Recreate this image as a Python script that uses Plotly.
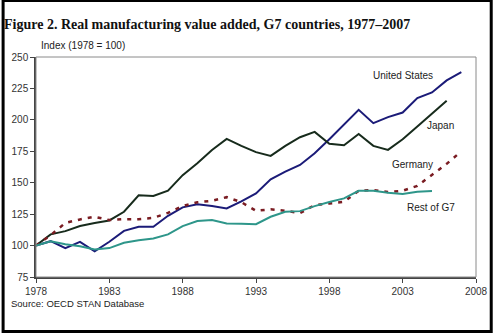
import plotly.graph_objects as go

# Index of real manufacturing value added (1978 = 100)
years_us = list(range(1978, 2008))
united_states = [100, 103.5, 98, 102.9, 95.5, 103, 111.7, 115, 115, 123.7,
                 130.4, 132.8, 131.4, 129.5, 135.2, 141.5, 152.7, 158.8, 164.1, 173.4,
                 184.6, 196, 208, 197.4, 202.2, 205.8, 217.3, 221.8, 231.4, 238]

years_jp = list(range(1978, 2007))
japan = [100, 108.9, 111.5, 115.5, 118, 120, 126.9, 140, 139.4, 143.6,
         156, 165.5, 176, 184.8, 179.3, 174.3, 171.3, 179.3, 186.2, 190.4,
         180.9, 179.8, 188.8, 179.3, 176.1, 184.6, 194.7, 204.8, 215.2]

years_de = list(range(1978, 2008))
germany = [100, 108.3, 118, 120.8, 122.9, 120.3, 121, 121, 122, 126,
           131.4, 134.4, 135.6, 138.5, 134.5, 127.7, 128.8, 127.7, 125.8, 132.2,
           133.5, 134.8, 143.6, 144.2, 142.6, 143.6, 147.5, 156, 165, 175]

years_rest = list(range(1978, 2006))
rest_of_g7 = [100, 103.5, 101, 99.5, 96.9, 98, 102.2, 104.3, 105.6, 108.9,
              115.5, 119.5, 120.3, 117.6, 117.3, 117, 122.9, 126.9, 127.4, 131.4,
              134.7, 137.5, 143.6, 143.6, 142, 141, 142.8, 143.4]

x_ticks = [1978, 1983, 1988, 1993, 1998, 2003, 2008]
y_ticks = [75, 100, 125, 150, 175, 200, 225, 250]

W, H = 500, 333
L, R, T, B = 35, 17, 57, 56
PW, PH = W - L - R, H - T - B


def px(x):
    return (x - L) / PW


def py(y):
    return (H - B - y) / PH


fig = go.Figure()
fig.add_trace(go.Scatter(x=years_us, y=united_states, mode="lines",
                         line=dict(color="#1b1b78", width=2), name="United States"))
fig.add_trace(go.Scatter(x=years_jp, y=japan, mode="lines",
                         line=dict(color="#172b1c", width=2), name="Japan"))
fig.add_trace(go.Scatter(x=years_de, y=germany, mode="lines",
                         line=dict(color="#7a1c22", width=2.5, dash="4px,6px"), name="Germany"))
fig.add_trace(go.Scatter(x=years_rest, y=rest_of_g7, mode="lines",
                         line=dict(color="#2e968a", width=2), name="Rest of G7"))

label_font = dict(family="Liberation Sans, Arial", size=10, color="#222222")
series_labels = [("United States", 2003.05, 235.1),
                 ("Japan", 2005.6, 195.8),
                 ("Germany", 2003.7, 164.1),
                 ("Rest of G7", 2004.9, 130)]
annotations = [dict(text=t, x=x, y=y, xref="x", yref="y", showarrow=False,
                    font=label_font, xanchor="center", yanchor="middle")
               for t, x, y in series_labels]

annotations += [
    dict(text="<b>Figure 2. Real manufacturing value added, G7 countries, 1977–2007</b>",
         x=px(0), y=py(24), xref="paper", yref="paper", showarrow=False,
         xanchor="left", yanchor="middle",
         font=dict(family="Liberation Serif, Times New Roman", size=14, color="#111111")),
    dict(text="Index (1978 = 100)", x=px(38), y=py(46), xref="paper", yref="paper",
         showarrow=False, xanchor="left", yanchor="middle",
         font=dict(family="Liberation Sans, Arial", size=10, color="#222222")),
    dict(text="Source: OECD STAN Database", x=px(8), y=py(303), xref="paper", yref="paper",
         showarrow=False, xanchor="left", yanchor="middle",
         font=dict(family="Liberation Sans, Arial", size=9.5, color="#222222")),
]

shapes = [
    # plot frame
    dict(type="rect", xref="paper", yref="paper", x0=0, x1=1, y0=0, y1=1,
         line=dict(color="#8a8a8a", width=1)),
    # outer border
    dict(type="rect", xref="paper", yref="paper",
         x0=px(1.5), x1=px(498.5), y0=py(331.5), y1=py(0.5),
         line=dict(color="#000000", width=3)),
]

tick_font = dict(family="Liberation Sans, Arial", size=10, color="#333333")
fig.update_layout(
    width=W, height=H,
    margin=dict(l=L, r=R, t=T, b=B),
    paper_bgcolor="white", plot_bgcolor="white",
    showlegend=False,
    annotations=annotations,
    shapes=shapes,
    xaxis=dict(range=[1978, 2008], tickvals=x_ticks, ticktext=[str(v) for v in x_ticks],
               showgrid=False, zeroline=False, showline=True, linecolor="#444444", linewidth=1.5,
               ticks="outside", ticklen=4, tickcolor="#444444", tickfont=tick_font),
    yaxis=dict(range=[75, 250], tickvals=y_ticks, ticktext=[str(v) for v in y_ticks],
               showgrid=False, zeroline=False, showline=True, linecolor="#444444", linewidth=1.5,
               ticks="outside", ticklen=4, tickcolor="#444444", tickfont=tick_font),
)

fig.write_html("out.html")
